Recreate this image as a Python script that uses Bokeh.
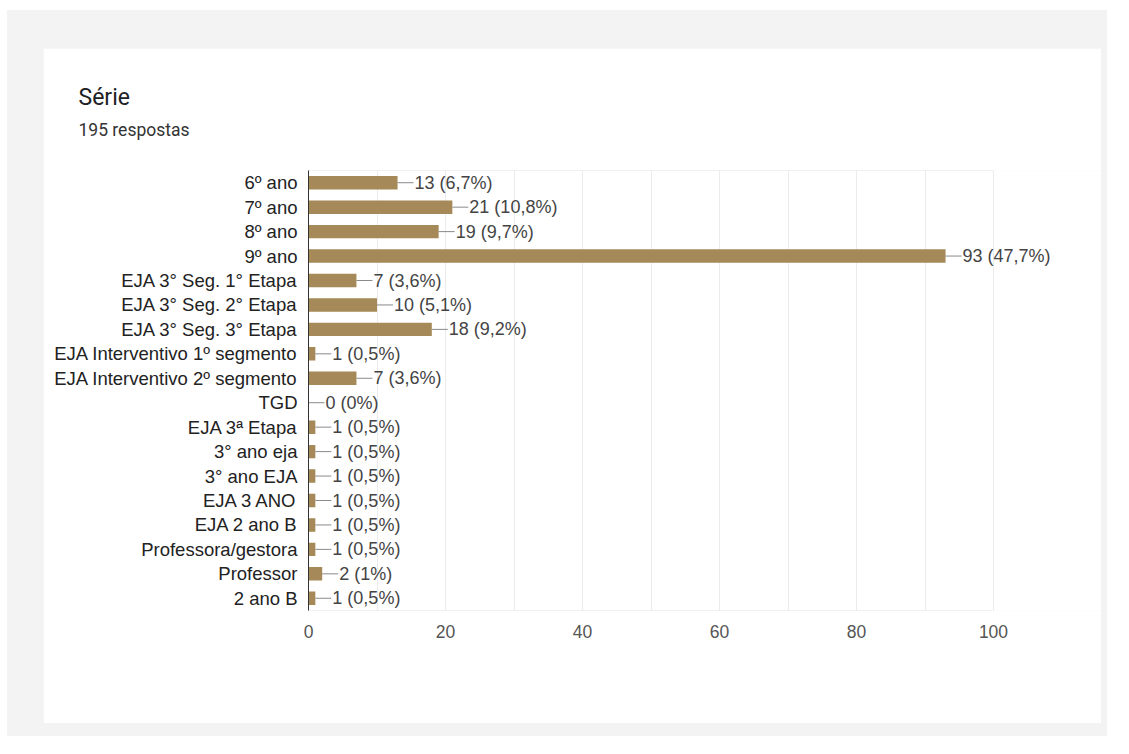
from bokeh.plotting import figure
from bokeh.models import ColumnDataSource, FactorRange, Title, FixedTicker
from bokeh.layouts import column
from bokeh.core.properties import value
from bokeh.embed import file_html
from bokeh.resources import INLINE

title_text = "Série"
subtitle_text = "195 respostas"

categories = [
    "6º ano", "7º ano", "8º ano", "9º ano",
    "EJA 3° Seg. 1° Etapa", "EJA 3° Seg. 2° Etapa", "EJA 3° Seg. 3° Etapa",
    "EJA Interventivo 1º segmento", "EJA Interventivo 2º segmento", "TGD",
    "EJA 3ª Etapa", "3° ano eja", "3° ano EJA", "EJA 3 ANO", "EJA 2 ano B",
    "Professora/gestora", "Professor", "2 ano B",
]
counts = [13, 21, 19, 93, 7, 10, 18, 1, 7, 0, 1, 1, 1, 1, 1, 1, 2, 1]
percents = ["6,7%", "10,8%", "9,7%", "47,7%", "3,6%", "5,1%", "9,2%", "0,5%", "3,6%",
            "0%", "0,5%", "0,5%", "0,5%", "0,5%", "0,5%", "0,5%", "1%", "0,5%"]
x_ticks = [0, 20, 40, 60, 80, 100]
grid_ticks = [0, 10, 20, 30, 40, 50, 60, 70, 80, 90, 100]
x_min, x_max = 0, 100

labels = [f"{c} ({p})" for c, p in zip(counts, percents)]
src = ColumnDataSource(dict(cat=categories, val=counts, lab=labels))

BAR = "#a58958"
ARIAL = "Liberation Sans"

# frame extends past 100 so the value labels are not clipped
frame_w = 1058 - 265
x_end = x_max * frame_w / 685.0

p = figure(
    width=1058, height=675,
    y_range=FactorRange(factors=list(reversed(categories))),
    x_range=(x_min, x_end),
    output_backend="svg", toolbar_location=None,
    title_location=None,
    min_border_left=265, min_border_right=0,
    min_border_top=122, min_border_bottom=113,
    background_fill_color="white", border_fill_color="white",
    outline_line_color=None,
)
p.margin = (38, 0, 0, 36)

# plot-area outline from 0 to 100 over all rows
p.quad(left=[x_min], right=[x_max], bottom=[0], top=[len(categories)],
       fill_color=None, line_color="#e6e6e6", line_width=1, level="underlay")

p.hbar(y="cat", right="val", left=0, height=0.55, source=src,
       fill_color=BAR, line_color=None)
p.ray(x="val", y="cat", length=16, length_units="screen", angle=0,
      source=src, line_color="#8a8a8a", line_width=1)
p.text(x="val", y="cat", text="lab", source=src, x_offset=17,
       text_baseline="middle", text_align="left",
       text_font=value(ARIAL), text_font_size="18px", text_color="#444444")

# grid
p.xgrid.ticker = FixedTicker(ticks=grid_ticks)
p.xgrid.grid_line_color = "#ebebeb"
p.ygrid.grid_line_color = None

# x axis
p.xaxis.ticker = FixedTicker(ticks=x_ticks)
p.xaxis.axis_line_color = None
p.xaxis.major_tick_line_color = None
p.xaxis.minor_tick_line_color = None
p.xaxis.major_tick_out = 0
p.xaxis.major_tick_in = 0
p.xaxis.major_label_standoff = 14
p.xaxis.major_label_text_font = ARIAL
p.xaxis.major_label_text_font_size = "17.5px"
p.xaxis.major_label_text_color = "#555555"

# y axis
p.yaxis.axis_line_color = "#333333"
p.yaxis.axis_line_width = 1
p.yaxis.major_tick_line_color = None
p.yaxis.minor_tick_line_color = None
p.yaxis.major_tick_out = 0
p.yaxis.major_tick_in = 0
p.yaxis.major_label_standoff = 11
p.yaxis.major_label_text_font = ARIAL
p.yaxis.major_label_text_font_size = "18.5px"
p.yaxis.major_label_text_color = "#222222"

p.add_layout(Title(text=subtitle_text, align="left", offset=-230,
                   text_font="Roboto", text_font_size="17.5px", text_font_style="normal",
                   text_color="#333333", padding=(0, 0, 0, 26)), "above")
p.add_layout(Title(text=title_text, align="left", offset=-230, standoff=3,
                   text_font="Roboto", text_font_size="23px", text_font_style="normal",
                   text_color="#202124"), "above")

card = column(p, styles={"background-color": "#f3f3f3"},
              margin=(10, 0, 0, 7), width=1100, height=726)
layout = column(card, styles={"background-color": "white"})

open("out.html", "w").write(file_html(layout, INLINE))
